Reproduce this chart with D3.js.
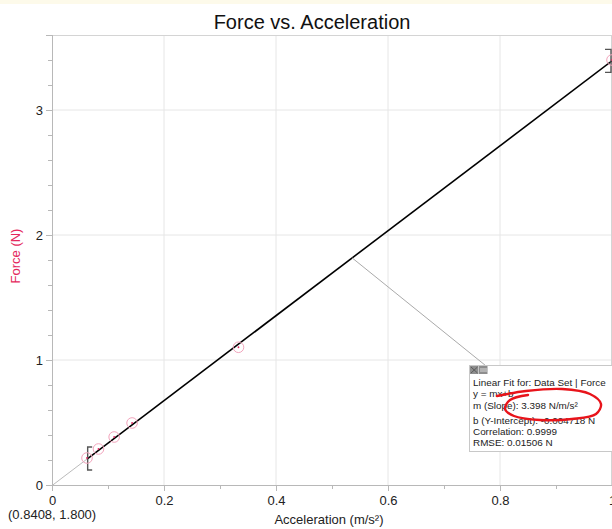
<!DOCTYPE html>
<html>
<head>
<meta charset="utf-8">
<script src="https://cdn.jsdelivr.net/npm/d3@7"></script>
<style>
  body { margin: 0; background: #fff; }
  svg { display: block; font-family: Arial, "Liberation Sans", sans-serif; }
</style>
</head>
<body>
<script>
var w = 612;
var h = 529;

// data
var accel = [0.0625, 0.083, 0.111, 0.143, 0.333, 1.0];
var force = [0.216, 0.288, 0.384, 0.496, 1.102, 3.4];
var slope = 3.398;
var intercept = -0.004718;
var fitRange = [0.0637, 1.0];
var xTicks = [0, 0.2, 0.4, 0.6, 0.8, 1];
var yTicks = [0, 1, 2, 3];
var fitLines = [
  "Linear Fit for: Data Set | Force",
  "y = mx+b",
  "m (Slope): 3.398 N/m/s\u00B2",
  "b (Y-Intercept): -0.004718 N",
  "Correlation: 0.9999",
  "RMSE: 0.01506 N"
];

var x = d3.scaleLinear().domain([0, 1]).range([52, 612]);
var y = d3.scaleLinear().domain([0, 3.6]).range([485, 35]);
var fit = function (a) { return slope * a + intercept; };

var svg = d3.select("body").append("svg").attr("width", w).attr("height", h);

// faint strip at top
svg.append("rect").attr("x", 0).attr("y", 0).attr("width", w).attr("height", 4)
  .attr("fill", "#fdfaea");

// gridlines
svg.selectAll("line.gx").data(xTicks.filter(d => d > 0)).enter().append("line")
  .attr("x1", d => x(d)).attr("x2", d => x(d))
  .attr("y1", y(3.6)).attr("y2", y(0))
  .attr("stroke", "#e6e6e6");
svg.selectAll("line.gy").data(yTicks.filter(d => d > 0)).enter().append("line")
  .attr("x1", x(0)).attr("x2", x(1))
  .attr("y1", d => y(d)).attr("y2", d => y(d))
  .attr("stroke", "#e6e6e6");

// top border
svg.append("line").attr("x1", x(0)).attr("x2", w).attr("y1", y(3.6) + 0.5).attr("y2", y(3.6) + 0.5)
  .attr("stroke", "#d4d4d4");
svg.append("line").attr("x1", w - 0.5).attr("x2", w - 0.5).attr("y1", y(3.6)).attr("y2", y(0))
  .attr("stroke", "#d4d4d4");

function styleAxis(g) {
  g.select(".domain").attr("stroke", "#b8b8b8");
  g.selectAll(".tick line").attr("stroke", "#b8b8b8");
  g.selectAll(".tick text").attr("fill", "#222").attr("font-size", "13px")
    .attr("font-family", "Arial, 'Liberation Sans', sans-serif");
}

// minor ticks
svg.append("g").attr("transform", "translate(0," + y(0) + ")")
  .call(d3.axisBottom(x).tickValues(d3.range(0, 1.001, 0.1)).tickSize(4).tickFormat(""))
  .call(styleAxis);
svg.append("g").attr("transform", "translate(" + x(0) + ",0)")
  .call(d3.axisLeft(y).tickValues(d3.range(0, 3.61, 0.2)).tickSize(4).tickFormat(""))
  .call(styleAxis);

// major ticks
svg.append("g").attr("transform", "translate(0," + y(0) + ")")
  .call(d3.axisBottom(x).tickValues(xTicks).tickSize(6).tickPadding(5).tickFormat(d3.format("~g")))
  .call(styleAxis);
svg.append("g").attr("transform", "translate(" + x(0) + ",0)")
  .call(d3.axisLeft(y).tickValues(yTicks).tickSize(6).tickPadding(3).tickFormat(d3.format("~g")))
  .call(styleAxis);

// extrapolated part of the fit
svg.append("line")
  .attr("x1", x(0)).attr("y1", y(fit(0)))
  .attr("x2", x(fitRange[0])).attr("y2", y(fit(fitRange[0])))
  .attr("stroke", "#bbbbbb").attr("stroke-width", 1);

// fit line
svg.append("line")
  .attr("x1", x(fitRange[0])).attr("y1", y(fit(fitRange[0])))
  .attr("x2", x(fitRange[1])).attr("y2", y(fit(fitRange[1])))
  .attr("stroke", "#000").attr("stroke-width", 1.6);

// range brackets
var bl = x(fitRange[0]), by = y(fit(fitRange[0]));
svg.append("path")
  .attr("d", "M" + (bl + 4.5) + "," + (by - 11.5) + "H" + bl + "V" + (by + 11.5) + "H" + (bl + 4.5))
  .attr("fill", "none").attr("stroke", "#555").attr("stroke-width", 1.4);
var br = x(fitRange[1]) - 1, bry = y(fit(fitRange[1]));
svg.append("path")
  .attr("d", "M" + (br - 6) + "," + (bry - 11.5) + "H" + br + "V" + (bry + 11.5) + "H" + (br - 6))
  .attr("fill", "none").attr("stroke", "#555").attr("stroke-width", 1.4);

// data points
var pts = svg.selectAll("g.pt").data(accel).enter().append("g");
pts.append("circle")
  .attr("cx", d => x(d)).attr("cy", (d, i) => y(force[i]))
  .attr("r", 5.3).attr("fill", "none").attr("stroke", "#f2a4bc").attr("stroke-width", 1);
pts.append("circle")
  .attr("cx", d => x(d)).attr("cy", (d, i) => y(force[i]))
  .attr("r", 0.9).attr("fill", "#e0245e");

// leader line to the fit box
var boxX = 469.5, boxY = 365.5;
var lead = 0.536;
svg.append("line")
  .attr("x1", x(lead)).attr("y1", y(fit(lead)))
  .attr("x2", boxX + 16).attr("y2", boxY)
  .attr("stroke", "#aaaaaa").attr("stroke-width", 1);

// fit box
svg.append("rect").attr("x", boxX).attr("y", boxY).attr("width", 160).attr("height", 86)
  .attr("fill", "#fff").attr("stroke", "#c8c8c8");
svg.append("rect").attr("x", boxX + 0.5).attr("y", boxY + 0.5).attr("width", 8.5).attr("height", 8)
  .attr("fill", "#8e8e8e");
svg.append("rect").attr("x", boxX + 9.5).attr("y", boxY + 0.5).attr("width", 8.5).attr("height", 8)
  .attr("fill", "#8e8e8e");
svg.append("path")
  .attr("d", "M" + (boxX + 1.5) + "," + (boxY + 1.5) + "L" + (boxX + 8) + "," + (boxY + 7.5) +
    "M" + (boxX + 8) + "," + (boxY + 1.5) + "L" + (boxX + 1.5) + "," + (boxY + 7.5))
  .attr("stroke", "#555").attr("stroke-width", 0.9);
svg.append("path")
  .attr("d", "M" + (boxX + 10.5) + "," + (boxY + 3.5) + "H" + (boxX + 17.5) +
    "M" + (boxX + 10.5) + "," + (boxY + 5.5) + "H" + (boxX + 17.5))
  .attr("stroke", "#d8d8d8").attr("stroke-width", 1);

var lineY = [386, 397, 409, 424, 435, 446];
svg.selectAll("text.fit").data(fitLines).enter().append("text")
  .attr("x", boxX + 3.5).attr("y", (d, i) => lineY[i])
  .attr("font-size", "9.9px").attr("fill", "#222")
  .text(d => d);

// hand drawn red ring around the slope
var ring = [[497, 396], [526, 391], [562, 389], [590, 394], [601, 404], [596, 414],
  [572, 419], [540, 420], [514, 416], [505, 409], [510, 400], [528, 395]];
svg.append("path")
  .attr("d", d3.line().curve(d3.curveCatmullRom)(ring))
  .attr("fill", "none").attr("stroke", "#e8141b").attr("stroke-width", 2.4)
  .attr("stroke-linecap", "round");

// titles
svg.append("text").attr("x", 312).attr("y", 29).attr("text-anchor", "middle")
  .attr("font-size", "20px").attr("fill", "#111").text("Force vs. Acceleration");
svg.append("text").attr("x", 329).attr("y", 524).attr("text-anchor", "middle")
  .attr("font-size", "13px").attr("fill", "#222").text("Acceleration (m/s\u00B2)");
svg.append("text").attr("transform", "translate(20,256) rotate(-90)").attr("text-anchor", "middle")
  .attr("font-size", "13px").attr("fill", "#e4285c").text("Force (N)");
svg.append("text").attr("x", 8).attr("y", 519)
  .attr("font-size", "13px").attr("fill", "#222").text("(0.8408, 1.800)");
</script>
</body>
</html>
